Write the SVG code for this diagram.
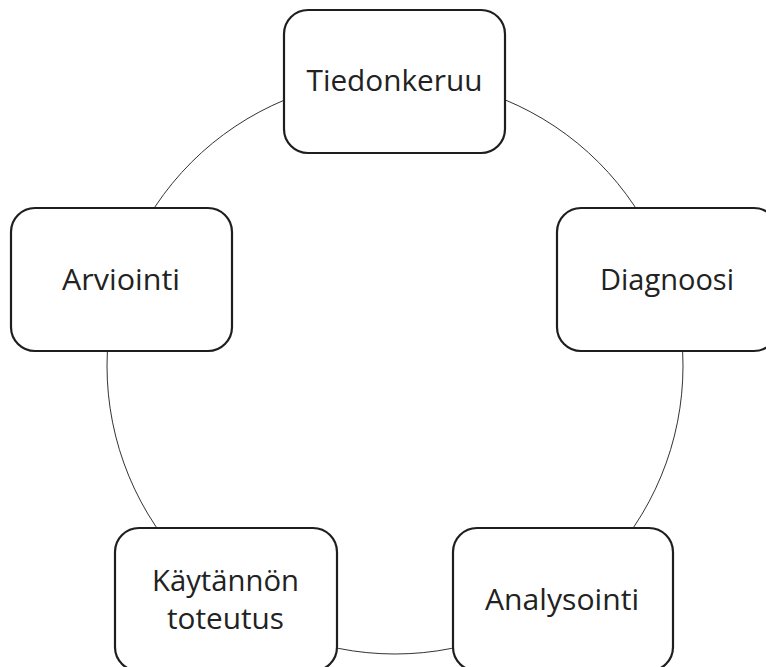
<svg xmlns="http://www.w3.org/2000/svg" width="766" height="667" viewBox="0 0 766 667">
<style>
.box{fill:#fff;stroke:#1e1e1e;stroke-width:2.2}
.lbl{font-family:"Open Sans","Noto Sans",sans-serif;font-size:30px;fill:#222;text-anchor:middle}
.ring{fill:none;stroke:#333;stroke-width:1}
</style>
<rect width="766" height="667" fill="#fff"/>
<g id="connectors">
<circle class="ring" cx="395" cy="366" r="288"/>
</g>
<g id="tiedonkeruu">
<rect class="box" x="284" y="10" width="221" height="143" rx="24"/>
<text class="lbl" x="394.5" y="91" textLength="176" lengthAdjust="spacingAndGlyphs">Tiedonkeruu</text>
</g>
<g id="diagnoosi">
<rect class="box" x="557" y="208" width="221" height="143" rx="24"/>
<text class="lbl" x="667" y="290" textLength="134" lengthAdjust="spacingAndGlyphs">Diagnoosi</text>
</g>
<g id="analysointi">
<rect class="box" x="453" y="528" width="220" height="143" rx="24"/>
<text class="lbl" x="562" y="610" textLength="154" lengthAdjust="spacingAndGlyphs">Analysointi</text>
</g>
<g id="kaytannon-toteutus">
<rect class="box" x="115" y="528" width="222" height="143" rx="24"/>
<text class="lbl" x="225.5" y="591" textLength="147" lengthAdjust="spacingAndGlyphs">Käytännön</text>
<text class="lbl" x="225.5" y="629" textLength="117" lengthAdjust="spacingAndGlyphs">toteutus</text>
</g>
<g id="arviointi">
<rect class="box" x="11" y="208" width="221" height="143" rx="24"/>
<text class="lbl" x="121" y="290" textLength="118" lengthAdjust="spacingAndGlyphs">Arviointi</text>
</g>
</svg>
